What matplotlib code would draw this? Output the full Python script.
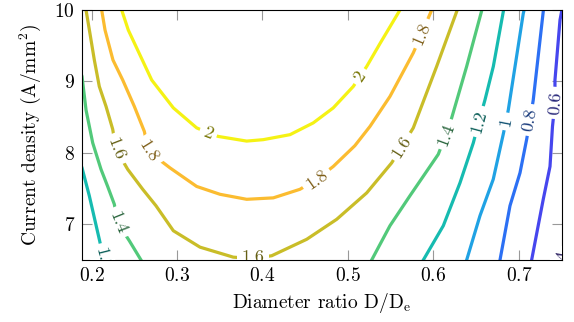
import matplotlib
matplotlib.use("Agg")  # headless
import matplotlib.pyplot as plt  # noqa: E402
from matplotlib.colors import to_rgb  # noqa: E402

plt.rcParams["font.family"] = "cmr10"
plt.rcParams["mathtext.fontset"] = "cm"
plt.rcParams["axes.formatter.use_mathtext"] = True

# contour lines: x = D/De, y = current density
levels = [0.4, 0.6, 0.8, 1.0, 1.2, 1.4, 1.6, 1.8, 2.0]
line_colors = ["#4a33b8", "#4646ee", "#2c70f4", "#20a2e4", "#16bbb0",
               "#52c97a", "#c9bd28", "#fbbc30", "#f5f214"]

x_060 = [0.7148, 0.7284, 0.7363, 0.7392, 0.7421, 0.7421, 0.7480, 0.7510]
y_060 = [6.50, 7.35, 7.81, 8.37, 8.70, 9.02, 9.86, 10.05]

x_080 = [0.6778, 0.6895, 0.7012, 0.7090, 0.7129, 0.7167, 0.7284, 0.7286]
y_080 = [6.50, 7.26, 7.72, 8.19, 8.46, 8.74, 9.98, 10.0]

x_100 = [0.6388, 0.6544, 0.6699, 0.6816, 0.6848, 0.6875, 0.7050, 0.7060]
y_100 = [6.50, 7.12, 7.63, 8.26, 8.44, 8.60, 9.95, 10.0]

x_120_left = [0.1880, 0.1889, 0.1974, 0.2091, 0.2146]
y_120_left = [7.82, 7.79, 7.40, 6.79, 6.50]
x_120_right = [0.5881, 0.6115, 0.6310, 0.6466, 0.6532, 0.6602, 0.6700, 0.6820]
y_120_right = [6.50, 6.98, 7.58, 8.14, 8.44, 8.74, 9.21, 10.0]

x_140_left = [0.1880, 0.1889, 0.1936, 0.2014, 0.2111, 0.2189, 0.2267, 0.2306,
              0.2442, 0.2579]
y_140_left = [9.10, 9.07, 8.60, 8.14, 7.77, 7.53, 7.28, 7.02, 6.77, 6.50]
x_140_right = [0.5277, 0.5491, 0.5725, 0.5959, 0.6056, 0.6146, 0.6213, 0.6388,
               0.6566]
y_140_right = [6.50, 6.98, 7.40, 7.81, 7.98, 8.26, 8.49, 9.21, 10.0]

x_160 = [0.1936, 0.1982, 0.2033, 0.2091, 0.2170, 0.2248, 0.2287, 0.2423,
         0.2599, 0.2754, 0.2957, 0.3269, 0.3658, 0.3890, 0.4108, 0.4517,
         0.4868, 0.5219, 0.5511, 0.5630, 0.5764, 0.6037, 0.6278]
y_160 = [10.0, 9.67, 9.30, 8.93, 8.65, 8.33, 8.05, 7.77, 7.49, 7.26, 6.91,
         6.68, 6.54, 6.52, 6.56, 6.79, 7.07, 7.44, 7.86, 8.09, 8.35, 9.21, 10.0]

x_180 = [0.2119, 0.2158, 0.2251, 0.2365, 0.2501, 0.2618, 0.2667, 0.2918,
         0.3230, 0.3503, 0.3815, 0.4126, 0.4438, 0.4634, 0.4828, 0.5080,
         0.5257, 0.5491, 0.5764, 0.5862, 0.5979]
y_180 = [10.0, 9.72, 9.30, 9.02, 8.65, 8.30, 8.02, 7.79, 7.53, 7.42, 7.35,
         7.37, 7.49, 7.63, 7.81, 8.10, 8.37, 8.79, 9.40, 9.67, 10.0]

x_200 = [0.2353, 0.2430, 0.2704, 0.2957, 0.3230, 0.3366, 0.3483, 0.3815,
         0.4009, 0.4322, 0.4594, 0.4828, 0.5062, 0.5140, 0.5219, 0.5374,
         0.5608]
y_200 = [10.0, 9.72, 9.02, 8.63, 8.35, 8.28, 8.23, 8.165, 8.185, 8.255,
         8.42, 8.63, 8.93, 9.07, 9.21, 9.53, 10.0]

curves = [
    (0.6, x_060, y_060), (0.8, x_080, y_080), (1.0, x_100, y_100),
    (1.2, x_120_left, y_120_left), (1.2, x_120_right, y_120_right),
    (1.4, x_140_left, y_140_left), (1.4, x_140_right, y_140_right),
    (1.6, x_160, y_160), (1.8, x_180, y_180), (2.0, x_200, y_200),
]

# inline labels: level, x, y, angle
labels = [
    (0.4, 0.7500, 6.47, 80), (0.6, 0.7421, 8.70, 86), (0.8, 0.7129, 8.46, 80),
    (1.0, 0.6848, 8.44, 79), (1.2, 0.6532, 8.44, 75), (1.2, 0.2131, 6.51, -76),
    (1.4, 0.6146, 8.26, 70), (1.4, 0.2306, 7.02, -68),
    (1.6, 0.5630, 8.09, 58), (1.6, 0.3890, 6.54, 0), (1.6, 0.2287, 8.05, -69),
    (1.8, 0.5862, 9.67, 67), (1.8, 0.4634, 7.63, 35), (1.8, 0.2667, 8.02, -58),
    (2.0, 0.5140, 9.07, 56), (2.0, 0.3366, 8.28, -21),
]

colors = dict(zip(levels, line_colors))

fig = plt.figure(figsize=(5.74, 3.22), dpi=100)
ax = fig.add_axes([0.1429, 0.1925, 0.8357, 0.7764])

for lev, xs, ys in curves:
    ax.plot(xs, ys, color=colors[lev], lw=2.3, solid_joinstyle="round")

for lev, x, y, ang in labels:
    dark = tuple(0.5 * c for c in to_rgb(colors[lev]))
    ax.text(x, y, f"{lev:g}", rotation=ang, rotation_mode="anchor",
            ha="center", va="center", fontsize=13, color=dark, clip_on=True,
            zorder=3, bbox=dict(boxstyle="square,pad=0.25", fc="white", ec="none"))

ax.set_xlim(0.1889, 0.75)
ax.set_ylim(6.5, 10)
ax.set_xticks([0.2, 0.3, 0.4, 0.5, 0.6, 0.7])
ax.set_yticks([7, 8, 9, 10])
ax.tick_params(direction="in", length=7.5, width=0.8, color="0.6",
               top=True, right=True, labelsize=14, pad=5)
for sp in ax.spines.values():
    sp.set_linewidth(0.8)
ax.set_xlabel(r"Diameter ratio D/D$_{\rm e}$", fontsize=14, labelpad=4)
ax.set_ylabel(r"Current density (A/mm$^2$)", fontsize=14, labelpad=8)

fig.savefig("out.png", dpi=100)
